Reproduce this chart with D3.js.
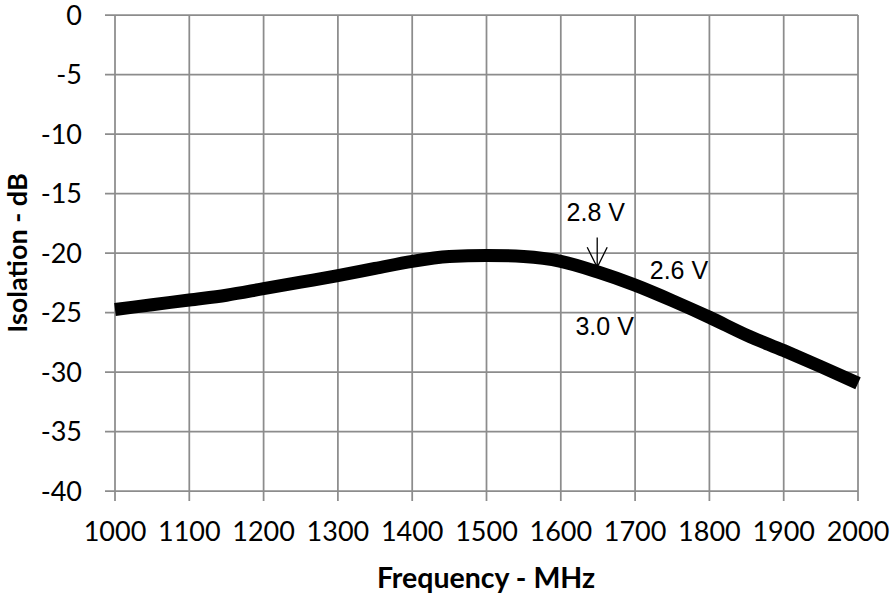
<!DOCTYPE html>
<html>
<head>
<meta charset="utf-8">
<script src="https://cdn.jsdelivr.net/npm/d3@7"></script>
<style>
  html, body { margin: 0; padding: 0; background: #fff; }
  svg { display: block; }
</style>
</head>
<body>
<svg id="chart" width="894" height="596"></svg>
<script>
// Isolation versus frequency
const freqMHz = [1000, 1050, 1100, 1150, 1200, 1250, 1300, 1350, 1400, 1450,
                 1500, 1550, 1600, 1650, 1700, 1750, 1800, 1850, 1900, 1950, 2000];
const isolationDb = [-24.75, -24.35, -23.95, -23.55, -23.0, -22.45, -21.9, -21.3, -20.7, -20.3,
                     -20.2, -20.3, -20.7, -21.6, -22.7, -24.0, -25.4, -26.9, -28.2, -29.55, -30.95];

const xTicks = [1000, 1100, 1200, 1300, 1400, 1500, 1600, 1700, 1800, 1900, 2000];
const yTicks = [0, -5, -10, -15, -20, -25, -30, -35, -40];

// Supply-voltage callouts: text, frequency, dB position
const voltageLabels = ["2.8 V", "2.6 V", "3.0 V"];
const voltageLabelFreq = [1647, 1759, 1659];
const voltageLabelDb = [-17.3, -22.2, -26.9];
// Arrow pointing from the 2.8 V label down to the curve
const arrowFreq = 1649;
const arrowFromDb = -18.7;
const arrowToDb = -21.2;

const svg = d3.select("#chart");
const plotLeft = 115, plotRight = 858, plotTop = 15, plotBottom = 491;

const x = d3.scaleLinear().domain([1000, 2000]).range([plotLeft, plotRight]);
const y = d3.scaleLinear().domain([-40, 0]).range([plotBottom, plotTop]);

const gridColor = "#8c8c8c";
const tickFont = "Lato, 'Open Sans', sans-serif";

// Vertical gridlines
svg.append("g")
  .selectAll("line")
  .data(xTicks)
  .join("line")
  .attr("x1", d => x(d)).attr("x2", d => x(d))
  .attr("y1", plotTop).attr("y2", plotBottom + 10)
  .attr("stroke", gridColor).attr("stroke-width", 1.75);

// Horizontal gridlines
svg.append("g")
  .selectAll("line")
  .data(yTicks)
  .join("line")
  .attr("x1", plotLeft - 10).attr("x2", plotRight)
  .attr("y1", d => y(d)).attr("y2", d => y(d))
  .attr("stroke", gridColor).attr("stroke-width", 1.75);

// X tick labels
svg.append("g")
  .selectAll("text")
  .data(xTicks)
  .join("text")
  .attr("x", d => x(d)).attr("y", 541)
  .attr("text-anchor", "middle")
  .attr("font-family", tickFont).attr("font-size", 27)
  .attr("fill", "#000")
  .text(d => d);

// Y tick labels
svg.append("g")
  .selectAll("text")
  .data(yTicks)
  .join("text")
  .attr("x", 82).attr("y", d => y(d) + 9.5)
  .attr("text-anchor", "end")
  .attr("font-family", tickFont).attr("font-size", 27)
  .attr("fill", "#000")
  .text(d => d);

// Axis titles
svg.append("text")
  .attr("x", 486).attr("y", 588)
  .attr("text-anchor", "middle")
  .attr("font-family", tickFont).attr("font-weight", "bold").attr("font-size", 28.5)
  .text("Frequency - MHz");

svg.append("text")
  .attr("transform", `translate(27, ${(plotTop + plotBottom) / 2}) rotate(-90)`)
  .attr("text-anchor", "middle")
  .attr("font-family", tickFont).attr("font-weight", "bold").attr("font-size", 27)
  .text("Isolation - dB");

// Isolation curve
const line = d3.line()
  .x((d, i) => x(freqMHz[i]))
  .y(d => y(d))
  .curve(d3.curveMonotoneX);

svg.append("path")
  .attr("d", line(isolationDb))
  .attr("fill", "none")
  .attr("stroke", "#000")
  .attr("stroke-width", 13)
  .attr("stroke-linejoin", "round")
  .attr("stroke-linecap", "butt");

// Voltage callouts
svg.append("g")
  .selectAll("text")
  .data(voltageLabels)
  .join("text")
  .attr("x", (d, i) => x(voltageLabelFreq[i]))
  .attr("y", (d, i) => y(voltageLabelDb[i]))
  .attr("text-anchor", "middle")
  .attr("font-family", "'Liberation Sans', Arial, sans-serif")
  .attr("font-size", 25)
  .attr("fill", "#000")
  .text(d => d);

// Open arrowhead pointer
const ax = x(arrowFreq), ay1 = y(arrowFromDb), ay2 = y(arrowToDb);
svg.append("path")
  .attr("d", `M${ax},${ay1} L${ax},${ay2} M${ax - 10},${ay2 - 20} L${ax},${ay2} L${ax + 10},${ay2 - 20}`)
  .attr("fill", "none")
  .attr("stroke", "#000")
  .attr("stroke-width", 1.3);
</script>
</body>
</html>
